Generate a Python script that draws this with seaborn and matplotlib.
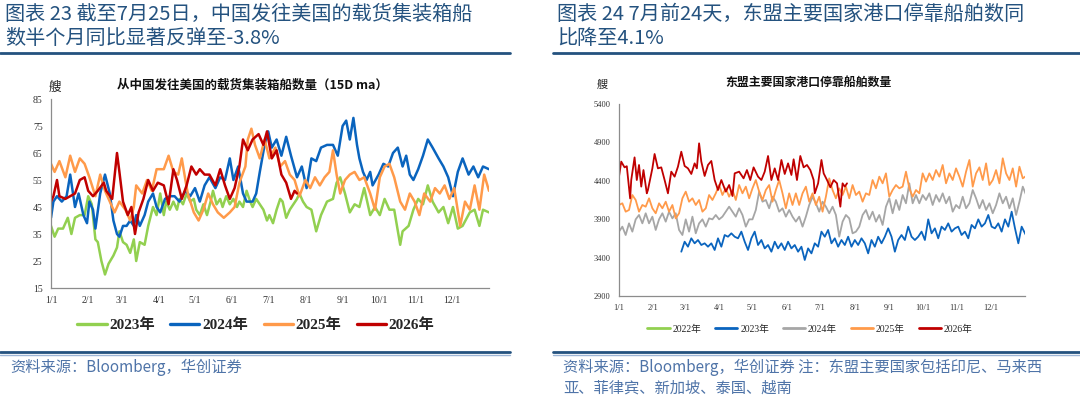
import numpy as np
import pandas as pd
import matplotlib
matplotlib.use("Agg")
import matplotlib.pyplot as plt
from matplotlib.lines import Line2D
import seaborn as sns

sns.set_style("white")
plt.rcParams["font.family"] = ["Liberation Serif", "Noto Sans CJK SC", "DejaVu Sans"]
plt.rcParams["axes.unicode_minus"] = False

CJK = ["Noto Sans CJK SC", "DejaVu Sans"]

# ---------------- left chart: ships from China to US (15D ma), (day of year, count)
ship_2023 = [(0, 38), (3, 34), (6, 37), (10, 37), (14, 41), (17, 35), (20, 41), (24, 42), (28, 42),
             (31, 49), (34, 46), (37, 33), (39, 32), (42, 25), (45, 20), (48, 24), (52, 27), (55, 30),
             (57, 36), (60, 32), (63, 31), (66, 28), (69, 33), (71, 25), (74, 32), (78, 31), (81, 38),
             (85, 45), (88, 42), (91, 50), (94, 42), (96, 47), (99, 44), (102, 47), (105, 44), (107, 48),
             (110, 46), (113, 50), (116, 47), (119, 48), (121, 44), (124, 42), (127, 46), (130, 42),
             (133, 47), (135, 51), (138, 46), (141, 48), (143, 45), (146, 49), (149, 46), (152, 48),
             (155, 45), (157, 47), (160, 45), (163, 51), (166, 47), (168, 45), (171, 48), (174, 46),
             (177, 44), (180, 40), (182, 42), (185, 39), (188, 44), (191, 48), (193, 47), (196, 41),
             (199, 44), (202, 46), (205, 48), (207, 50), (210, 47), (213, 45), (217, 44), (221, 36),
             (225, 42), (230, 47), (235, 48), (238, 54), (241, 56), (245, 50), (249, 43), (253, 46),
             (257, 45), (261, 52), (266, 42), (270, 45), (274, 42), (278, 48), (282, 44), (286, 44),
             (291, 31), (293, 36), (298, 38), (302, 44), (306, 48), (310, 46), (314, 53), (318, 47),
             (323, 43), (327, 45), (331, 39), (335, 45), (339, 37), (343, 38), (349, 43), (353, 44),
             (357, 38), (360, 44), (365, 43)]
ship_2024 = [(0, 41), (2, 47), (5, 49), (9, 47), (13, 49), (16, 57), (20, 45), (23, 50), (27, 42),
             (30, 39), (32, 47), (35, 44), (37, 37), (41, 50), (45, 57), (49, 50), (52, 40), (55, 35),
             (57, 34), (60, 38), (63, 38), (66, 40), (69, 38), (71, 42), (74, 38), (78, 42), (81, 47),
             (85, 50), (88, 45), (91, 43), (95, 48), (99, 49), (103, 49), (107, 47), (112, 51), (116, 49),
             (120, 52), (124, 47), (128, 53), (132, 56), (137, 52), (141, 56), (145, 55), (149, 63),
             (152, 55), (156, 60), (160, 50), (163, 47), (168, 47), (171, 50), (174, 58), (178, 68),
             (181, 73), (184, 67), (188, 70), (192, 64), (196, 71), (200, 64), (205, 56), (209, 60),
             (213, 52), (217, 63), (221, 62), (225, 67), (230, 68), (235, 68), (239, 64), (243, 75),
             (246, 77), (249, 70), (252, 78), (255, 68), (257, 63), (260, 58), (263, 55), (266, 58),
             (268, 53), (273, 57), (277, 61), (281, 60), (285, 65), (289, 67), (293, 60), (296, 64),
             (299, 57), (302, 55), (306, 59), (310, 64), (314, 70), (318, 67), (323, 63), (327, 60),
             (331, 56), (335, 49), (339, 58), (343, 63), (348, 57), (352, 60), (356, 56), (360, 60),
             (365, 59)]
ship_2025 = [(0, 61), (3, 58), (7, 62), (12, 56), (16, 64), (20, 58), (24, 63), (28, 61), (32, 56),
             (37, 49), (41, 57), (45, 51), (49, 47), (53, 43), (57, 47), (62, 44), (66, 40), (69, 45),
             (71, 53), (76, 50), (80, 55), (84, 51), (88, 59), (94, 59), (98, 64), (102, 58), (106, 57),
             (109, 63), (112, 55), (114, 50), (119, 43), (123, 40), (127, 44), (131, 50), (135, 46),
             (139, 43), (144, 41), (149, 43), (153, 45), (157, 54), (162, 60), (164, 70), (167, 74),
             (170, 68), (174, 63), (178, 70), (182, 63), (187, 67), (191, 60), (195, 62), (199, 57),
             (203, 55), (207, 49), (212, 55), (216, 52), (220, 56), (224, 53), (228, 56), (232, 58),
             (235, 66), (238, 57), (241, 50), (245, 55), (249, 57), (253, 58), (257, 55), (261, 56),
             (266, 50), (270, 44), (274, 56), (278, 60), (282, 61), (286, 56), (291, 47), (295, 44),
             (299, 50), (303, 47), (307, 42), (311, 50), (316, 47), (320, 52), (324, 50), (328, 53),
             (332, 48), (336, 52), (341, 38), (345, 47), (349, 44), (353, 53), (357, 44), (361, 57),
             (365, 51)]
ship_2026 = [(0, 47), (2, 49), (5, 55), (7, 49), (12, 48), (16, 49), (20, 50), (24, 55), (28, 56),
             (31, 51), (35, 49), (39, 51), (44, 54), (46, 51), (51, 48), (55, 65), (57, 58), (60, 47),
             (64, 42), (67, 45), (70, 35), (73, 43), (77, 48), (81, 55), (85, 51), (89, 54), (94, 53),
             (98, 46), (102, 59), (105, 55), (109, 48), (113, 53), (117, 60), (121, 57), (124, 59),
             (128, 57), (132, 57), (137, 53), (141, 59), (145, 53), (149, 48), (153, 52), (157, 60),
             (160, 70), (164, 66), (168, 70), (173, 72), (177, 68), (180, 73), (184, 63), (188, 66),
             (192, 57), (196, 54), (200, 48), (203, 51), (205, 50)]

# ---------------- right chart: ASEAN port calls, sampled every 3 days
port_2025 = [4085, 4107, 3998, 4020, 4215, 4150, 3998, 4085, 4063, 4172, 4042, 3977, 4107, 4042,
             4128, 3998, 4085, 3911, 3977, 4172, 4259, 4128, 4172, 4085, 4150, 3998, 4042, 4215,
             4150, 4237, 4345, 4215, 4302, 4193, 4280, 4150, 4345, 4237, 4324, 4172, 4302, 4410,
             4259, 4150, 4280, 4345, 4128, 4280, 4410, 4237, 4042, 4237, 4085, 4237, 4085, 4237,
             4324, 4128, 4237, 4085, 4193, 3998, 4193, 4432, 4280, 4172, 4302, 4215, 4324, 4172,
             4345, 4215, 4259, 4128, 4237, 4215, 4410, 4302, 4454, 4367, 4497, 4193, 4280, 4345,
             4302, 4324, 4519, 4302, 4193, 4280, 4237, 4497, 4389, 4497, 4410, 4540, 4454, 4606,
             4367, 4497, 4410, 4562, 4454, 4324, 4519, 4671, 4324, 4497, 4575, 4410, 4627, 4345,
             4410, 4540, 4367, 4693, 4497, 4410, 4562, 4324, 4584, 4432, 4463]
port_2024 = [3738, 3803, 3694, 3846, 3738, 3898, 3955, 3846, 3977, 3846, 3933, 3760, 3898, 3977,
             3868, 3998, 3911, 3977, 3760, 3694, 3898, 3738, 3933, 3716, 3846, 3898, 3803, 3911,
             3898, 3955, 3898, 3933, 3998, 4063, 3998, 3933, 4042, 3955, 3803, 3898, 3898, 4020,
             4259, 4128, 4150, 4042, 4193, 4128, 3998, 4042, 3933, 4020, 3933, 3868, 3933, 3803,
             3933, 4085, 4193, 4107, 3998, 4128, 4063, 3977, 4063, 3955, 3673, 3868, 3955, 3911,
             3716, 3738, 3803, 3955, 4020, 3898, 3998, 3868, 3955, 3825, 4063, 4172, 3977, 4150,
             4020, 4215, 4107, 4367, 4107, 4215, 4107, 4215, 4150, 4237, 4085, 4215, 4128, 4237,
             4107, 4193, 3998, 4085, 4042, 4193, 4042, 4107, 4280, 4172, 4042, 4150, 4020, 4107,
             3977, 4085, 4237, 4107, 4193, 4042, 4172, 3955, 4128, 4324, 4215]
port_2023 = [3477, 3607, 3542, 3651, 3586, 3629, 3564, 3586, 3542, 3586, 3499, 3651, 3542, 3694,
             3672, 3716, 3672, 3651, 3738, 3607, 3499, 3651, 3738, 3564, 3629, 3520, 3564, 3477,
             3607, 3520, 3586, 3499, 3607, 3520, 3564, 3477, 3542, 3369, 3520, 3455, 3586, 3542,
             3738, 3672, 3760, 3586, 3651, 3542, 3629, 3564, 3672, 3542, 3629, 3564, 3651, 3586,
             3455, 3629, 3542, 3672, 3586, 3672, 3781, 3672, 3477, 3629, 3694, 3629, 3803, 3672,
             3629, 3672, 3738, 3629, 3898, 3716, 3781, 3651, 3803, 3760, 3846, 3738, 3781, 3803,
             3694, 3738, 3651, 3825, 3781, 3898, 3803, 3846, 3955, 3803, 3781, 3846, 3738, 3898,
             3803, 3998, 3781, 3586, 3803, 3716, 3629]
port_2026 = [(0, 4454), (2, 4650), (5, 4575), (7, 4590), (10, 4170), (11, 4410), (14, 4705), (16, 4410),
             (18, 4606), (20, 4324), (22, 4540), (25, 4237), (26, 4280), (30, 4562), (32, 4749),
             (35, 4562), (38, 4575), (41, 4410), (44, 4237), (47, 4519), (50, 4454), (53, 4584),
             (56, 4779), (59, 4593), (62, 4562), (65, 4489), (68, 4627), (70, 4562), (72, 4888),
             (74, 4650), (77, 4463), (80, 4606), (83, 4658), (86, 4410), (89, 4280), (92, 4410),
             (96, 4259), (99, 4345), (102, 4202), (104, 4497), (108, 4519), (112, 4432), (115, 4540),
             (118, 4410), (121, 4575), (125, 4454), (128, 4410), (131, 4519), (134, 4723), (137, 4410),
             (140, 4562), (143, 4410), (146, 4671), (149, 4489), (152, 4627), (155, 4476), (157, 4680),
             (160, 4410), (163, 4723), (166, 4575), (169, 4606), (172, 4540), (175, 4410), (176, 4237),
             (179, 4367), (182, 4671), (184, 4497), (187, 4410), (190, 4315), (193, 4410), (196, 4367),
             (199, 4063), (201, 4367), (203, 4324), (205, 4367)]

month_days = [0, 31, 59, 90, 120, 151, 181, 212, 243, 273, 304, 334]
month_labels = ["1/1", "2/1", "3/1", "4/1", "5/1", "6/1", "7/1", "8/1", "9/1", "10/1", "11/1", "12/1"]

left_years = ["2023年", "2024年", "2025年", "2026年"]
left_colors = ["#92D050", "#0A64BE", "#FF9A4A", "#C00000"]
right_years = ["2022年", "2023年", "2024年", "2025年", "2026年"]
right_colors = ["#92D050", "#0A64BE", "#A6A6A6", "#FF9A4A", "#C00000"]


def pairs_df(pairs, year):
    d = pd.DataFrame(pairs, columns=["day", "value"])
    d["year"] = year
    return d


def grid_df(values, start, year):
    return pd.DataFrame({"day": start + 3 * np.arange(len(values)), "value": values, "year": year})


left_df = pd.concat([pairs_df(ship_2023, "2023年"), pairs_df(ship_2024, "2024年"),
                     pairs_df(ship_2025, "2025年"), pairs_df(ship_2026, "2026年")])
right_df = pd.concat([grid_df(port_2023, 56, "2023年"), grid_df(port_2024, 0, "2024年"),
                      grid_df(port_2025, 0, "2025年"), pairs_df(port_2026, "2026年")])

W, H = 1080, 411
fig = plt.figure(figsize=(W / 100, H / 100), dpi=100)


def fx(px):
    return px / W


def fy(py):
    return 1 - py / H


TITLE_C = "#24527F"
SRC_C = "#4F74A8"
AX_C = "#8C8C8C"

# titles
fig.text(fx(5), fy(14), "图表 23 截至7月25日，中国发往美国的载货集装箱船", fontsize=14.5,
         color=TITLE_C, family=CJK, va="center")
fig.text(fx(5), fy(38), "数半个月同比显著反弹至-3.8%", fontsize=14.5, color=TITLE_C, family=CJK, va="center")
fig.text(fx(557), fy(14), "图表 24 7月前24天，东盟主要国家港口停靠船舶数同", fontsize=14.5,
         color=TITLE_C, family=CJK, va="center")
fig.text(fx(557), fy(38), "比降至4.1%", fontsize=14.5, color=TITLE_C, family=CJK, va="center")

for x0, x1 in [(0, 510), (553, 1080)]:
    fig.add_artist(Line2D([fx(x0), fx(x1)], [fy(53), fy(53)], transform=fig.transFigure,
                          color=TITLE_C, lw=2.0))
    fig.add_artist(Line2D([fx(x0), fx(x1)], [fy(352), fy(352)], transform=fig.transFigure,
                          color=TITLE_C, lw=2.0))
    fig.add_artist(Line2D([fx(x0), fx(x1)], [fy(355), fy(355)], transform=fig.transFigure,
                          color="#9DB5D6", lw=1.0))

fig.text(fx(10), fy(367), "资料来源：Bloomberg，华创证券", fontsize=11, color=SRC_C, family=CJK, va="center")
fig.text(fx(563), fy(367), "资料来源：Bloomberg，华创证券 注：东盟主要国家包括印尼、马来西",
         fontsize=11, color=SRC_C, family=CJK, va="center")
fig.text(fx(563), fy(388), "亚、菲律宾、新加坡、泰国、越南", fontsize=11, color=SRC_C, family=CJK, va="center")


def style_axis(ax, fs):
    for s in ["top", "right"]:
        ax.spines[s].set_visible(False)
    for s in ["left", "bottom"]:
        ax.spines[s].set_color(AX_C)
        ax.spines[s].set_linewidth(0.9)
    ax.set_xlim(0, 365)
    ax.set_xticks(month_days + [365])
    ax.set_xticklabels(month_labels + [""])
    ax.tick_params(axis="both", direction="out", length=3, width=0.8, color=AX_C,
                   labelsize=fs, labelcolor="#333333", pad=3)
    for lab in ax.get_xticklabels() + ax.get_yticklabels():
        lab.set_family("Liberation Serif")
    ax.set_xlabel("")
    ax.set_ylabel("")
    ax.grid(False)


# left chart
ax1 = fig.add_axes([fx(51), fy(288), fx(489) - fx(51), fy(99) - fy(288)])
sns.lineplot(data=left_df, x="day", y="value", hue="year", hue_order=left_years,
             palette=left_colors, estimator=None, sort=False, lw=1.8, legend=False, ax=ax1)
ax1.set_ylim(15, 85)
ax1.set_yticks(range(15, 86, 10))
style_axis(ax1, 7)
fig.text(fx(252), fy(85), "从中国发往美国的载货集装箱船数量（15D ma）", fontsize=9, fontweight="bold",
         family=CJK, ha="center", va="center", color="#111111")
fig.text(fx(55), fy(87), "艘", fontsize=9, family=CJK, ha="center", va="center", color="#222222")

h1 = [Line2D([0], [0], color=c, lw=2.4) for c in left_colors]
fig.legend(h1, left_years, loc="center", bbox_to_anchor=(fx(256), fy(325)), ncol=4, frameon=False,
           handlelength=1.9, handletextpad=0.2, columnspacing=1.0,
           prop={"family": ["Liberation Serif", "Noto Sans CJK SC"], "weight": "bold", "size": 11})

# right chart
ax2 = fig.add_axes([fx(619), fy(296), fx(1025) - fx(619), fy(104) - fy(296)])
sns.lineplot(data=right_df, x="day", y="value", hue="year", hue_order=right_years[1:],
             palette=right_colors[1:], estimator=None, sort=False, lw=1.3, legend=False, ax=ax2)
ax2.set_ylim(2900, 5400)
ax2.set_yticks(range(2900, 5401, 500))
style_axis(ax2, 6)
fig.text(fx(808), fy(82), "东盟主要国家港口停靠船舶数量", fontsize=8.6, fontweight="bold",
         family=CJK, ha="center", va="center", color="#111111")
fig.text(fx(602), fy(85), "艘", fontsize=8, family=CJK, ha="center", va="center", color="#222222")

h2 = [Line2D([0], [0], color=c, lw=2.0) for c in right_colors]
fig.legend(h2, right_years, loc="center", bbox_to_anchor=(fx(810), fy(329)), ncol=5, frameon=False,
           handlelength=2.3, handletextpad=0.3, columnspacing=1.4,
           prop={"family": ["Liberation Serif", "Noto Sans CJK SC"], "size": 7})

fig.savefig("out.png", dpi=100)
